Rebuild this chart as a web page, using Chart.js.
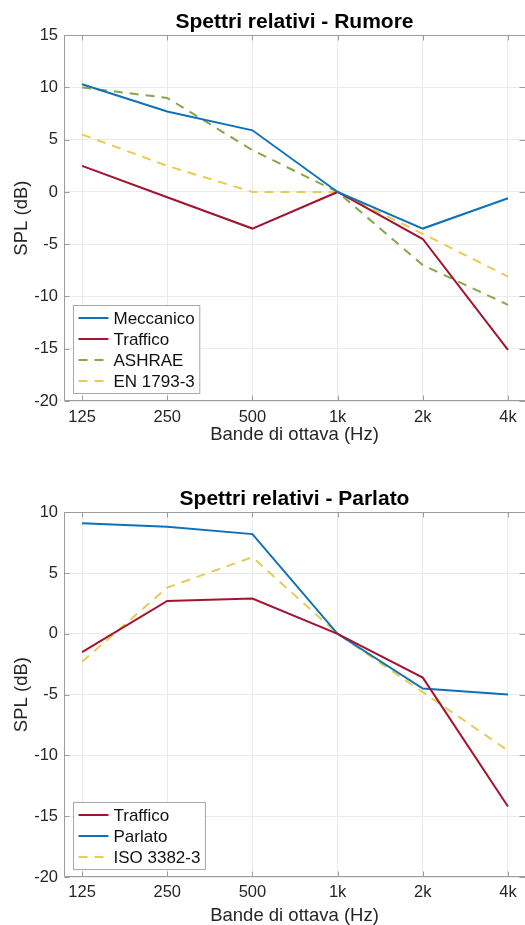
<!DOCTYPE html>
<html>
<head>
<meta charset="utf-8">
<script src="https://cdn.jsdelivr.net/npm/chart.js@4"></script>
<style>
  html, body { margin: 0; padding: 0; background: #fff; }
  canvas { display: block; }
</style>
</head>
<body>
<canvas id="rumore" width="525" height="462"></canvas>
<canvas id="parlato" width="525" height="463"></canvas>
<script>
// Octave bands (Hz)
const bands = ['125', '250', '500', '1k', '2k', '4k'];

// Relative spectra, noise sources (dB re 1 kHz)
const meccanico = [10.3, 7.7, 5.9, 0, -3.5, -0.6];
const trafficoRumore = [2.5, -0.5, -3.5, 0, -4.5, -15.1];
const ashrae = [10, 9, 4, 0, -7, -10.8];
const en1793 = [5.5, 2.5, 0, 0, -4, -8.1];

// Relative spectra, speech (dB re 1 kHz)
const trafficoParlato = [-1.5, 2.7, 2.9, 0, -3.6, -14.2];
const parlato = [9.1, 8.8, 8.2, 0, -4.5, -5];
const iso3382 = [-2.3, 3.8, 6.3, 0, -4.8, -9.6];

// y-axis ranges and ticks
const yTicksRumore = { min: -20, max: 15, step: 5 };
const yTicksParlato = { min: -20, max: 10, step: 5 };

const FONT = '"Liberation Sans", Arial, Helvetica, sans-serif';
const COL = {
  blue: '#0F72B8',
  red: '#A2142F',
  green: '#86A64A',
  yellow: '#E6CC52'
};

function pts(values) {
  return values.map((v, i) => ({ x: i, y: v }));
}

function series(label, values, color, dashed) {
  return {
    label,
    data: pts(values),
    borderColor: color,
    backgroundColor: color,
    borderWidth: 2,
    borderDash: dashed ? [9, 7] : [],
    pointRadius: 0,
    tension: 0,
    fill: false
  };
}

// Box frame with inward tick marks, plus a boxed legend in the lower-left corner
const boxAxes = {
  id: 'boxAxes',
  afterDatasetsDraw(chart) {
    const { ctx, chartArea: a, scales: { x, y } } = chart;
    ctx.save();
    ctx.strokeStyle = '#9c9c9c';
    ctx.lineWidth = 1;
    ctx.setLineDash([]);
    const L = Math.round(a.left) + 0.5, R = Math.round(a.right) + 0.5;
    const T = Math.round(a.top) + 0.5, B = Math.round(a.bottom) - 0.5;
    // left, bottom and top edges; the right edge falls just past the canvas
    ctx.beginPath();
    ctx.moveTo(R, T); ctx.lineTo(L, T); ctx.lineTo(L, B); ctx.lineTo(R, B);
    ctx.stroke();
    const tl = 5;
    ctx.beginPath();
    x.ticks.forEach(t => {
      const px = Math.round(x.getPixelForValue(t.value)) + 0.5;
      ctx.moveTo(px, B); ctx.lineTo(px, B - tl);
      ctx.moveTo(px, T); ctx.lineTo(px, T + tl);
    });
    y.ticks.forEach(t => {
      const py = Math.round(y.getPixelForValue(t.value)) + 0.5;
      ctx.moveTo(L, py); ctx.lineTo(L + tl, py);
      ctx.moveTo(R, py); ctx.lineTo(R - tl - 1, py);
    });
    ctx.stroke();

    // legend
    const items = chart.data.datasets;
    ctx.font = '17px ' + FONT;
    const tw = Math.max(...items.map(d => ctx.measureText(d.label).width));
    const rowH = 21;
    const bh = items.length * rowH + 4;
    const bw = 40 + tw + 5;
    const bx = Math.round(a.left + 9) + 0.5;
    const by = Math.round(a.bottom - 8 - bh) + 0.5;
    ctx.fillStyle = '#ffffff';
    ctx.fillRect(bx, by, bw, bh);
    ctx.strokeStyle = '#a8a8a8';
    ctx.strokeRect(bx, by, bw, bh);
    items.forEach((d, i) => {
      const cy = by + 2 + rowH * i + rowH / 2;
      ctx.strokeStyle = d.borderColor;
      ctx.lineWidth = 2;
      ctx.setLineDash(d.borderDash || []);
      ctx.beginPath();
      ctx.moveTo(bx + 5, cy); ctx.lineTo(bx + 35, cy);
      ctx.stroke();
      ctx.setLineDash([]);
      ctx.fillStyle = '#111111';
      ctx.textAlign = 'left';
      ctx.textBaseline = 'middle';
      ctx.fillText(d.label, bx + 40, cy + 1);
    });
    ctx.restore();
  }
};

function makeChart(id, title, datasets, yr, geom) {
  return new Chart(document.getElementById(id), {
    type: 'line',
    data: { datasets },
    options: {
      responsive: false,
      animation: false,
      events: [],
      layout: { padding: { left: 0, right: 0, top: 0, bottom: 0 } },
      plugins: {
        legend: { display: false },
        tooltip: { enabled: false },
        title: {
          display: true,
          text: title,
          fullSize: false,
          color: '#000000',
          font: { family: FONT, size: 21, weight: 'bold', lineHeight: 1.2 },
          padding: { top: geom.titleTop, bottom: geom.titleBottom }
        }
      },
      scales: {
        x: {
          type: 'linear',
          min: -0.212,
          max: 5.2,
          afterBuildTicks(scale) {
            scale.ticks = bands.map((_, i) => ({ value: i }));
          },
          afterFit(scale) { scale.height = geom.xHeight; },
          grid: { color: '#ebebeb', lineWidth: 1, drawTicks: false },
          border: { display: false },
          ticks: {
            color: '#262626',
            font: { family: FONT, size: 16.5 },
            padding: geom.xTickPad,
            maxRotation: 0,
            autoSkip: false,
            callback: v => bands[v]
          },
          title: {
            display: true,
            text: 'Bande di ottava (Hz)',
            color: '#262626',
            font: { family: FONT, size: 18.5, lineHeight: 1 },
            padding: { top: 0, bottom: geom.xTitlePad }
          }
        },
        y: {
          min: yr.min,
          max: yr.max,
          afterFit(scale) { scale.width = 64; },
          grid: { color: '#ebebeb', lineWidth: 1, drawTicks: false },
          border: { display: false },
          ticks: {
            stepSize: yr.step,
            color: '#262626',
            font: { family: FONT, size: 16.5 },
            padding: 6
          },
          title: {
            display: true,
            text: 'SPL (dB)',
            color: '#262626',
            font: { family: FONT, size: 18.5, lineHeight: 1 },
            padding: { top: 13, bottom: 0 }
          }
        }
      }
    },
    plugins: [boxAxes]
  });
}

makeChart('rumore', 'Spettri relativi - Rumore', [
  series('Meccanico', meccanico, COL.blue, false),
  series('Traffico', trafficoRumore, COL.red, false),
  series('ASHRAE', ashrae, COL.green, true),
  series('EN 1793-3', en1793, COL.yellow, true)
], yTicksRumore, { titleTop: 10, titleBottom: 0, xHeight: 61, xTickPad: 7, xTitlePad: 18 });

makeChart('parlato', 'Spettri relativi - Parlato', [
  series('Traffico', trafficoParlato, COL.red, false),
  series('Parlato', parlato, COL.blue, false),
  series('ISO 3382-3', iso3382, COL.yellow, true)
], yTicksParlato, { titleTop: 25, titleBottom: 0, xHeight: 48, xTickPad: 6, xTitlePad: 0 });
</script>
</body>
</html>
